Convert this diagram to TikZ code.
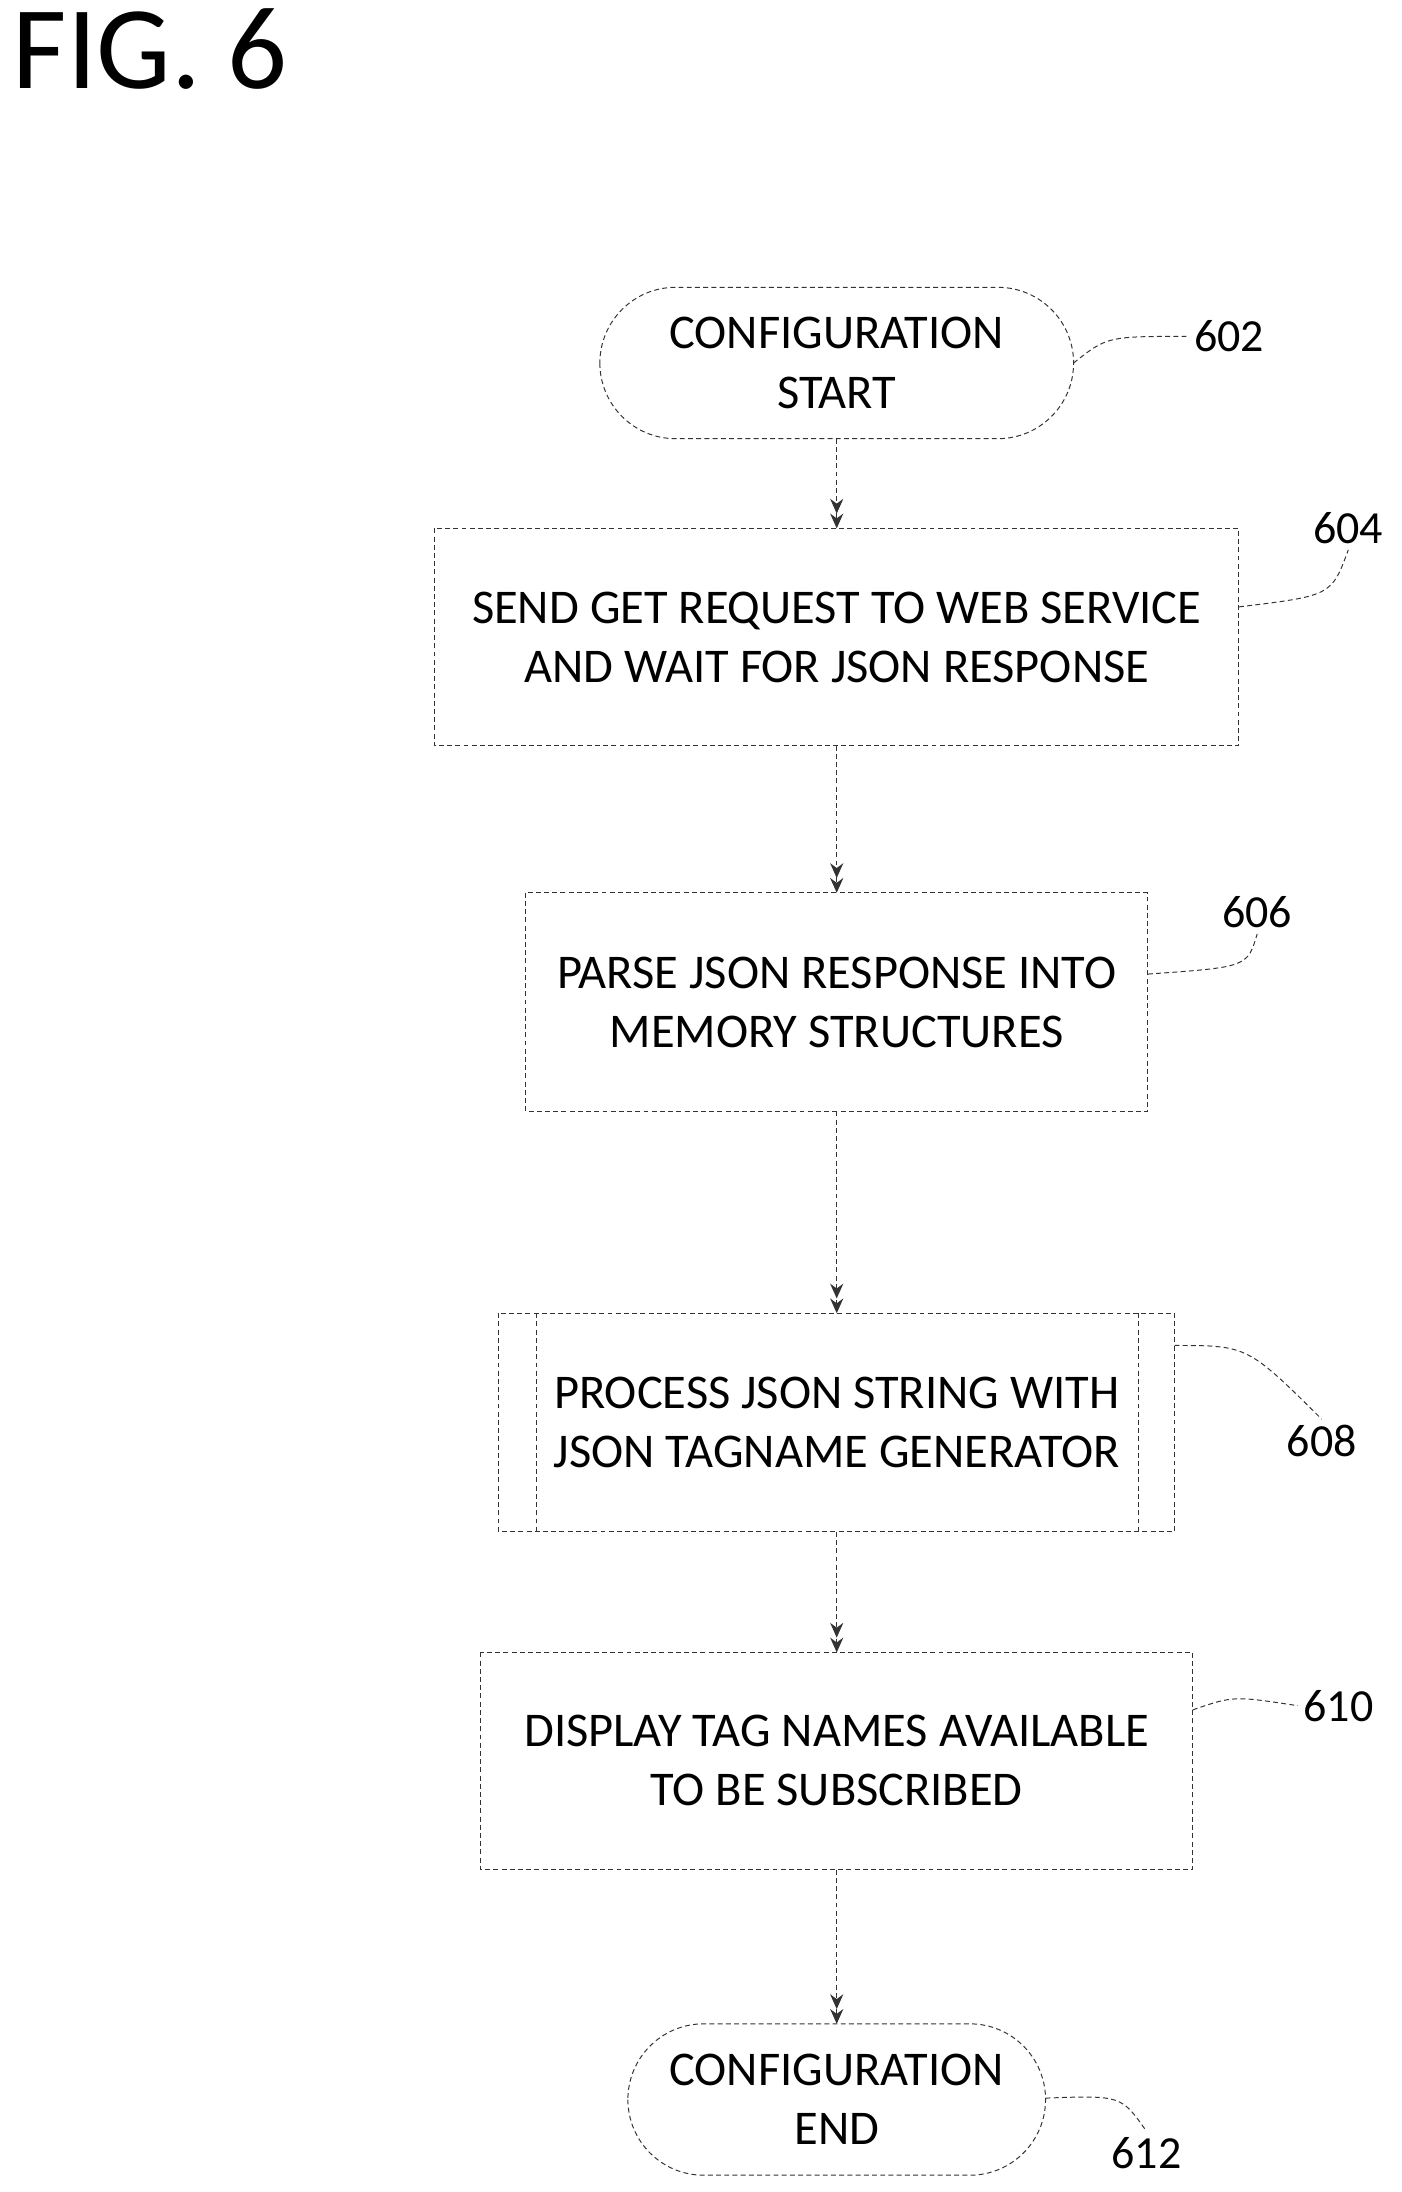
\documentclass[tikz,border=0pt]{standalone}
\usepackage{fontspec}
\setmainfont{Carlito}
\usetikzlibrary{arrows.meta}
\begin{document}
\begin{tikzpicture}[x=0.03cm,y=-0.03cm,
  box/.style={draw=black!80,densely dashed,line width=0.6pt,inner sep=0},
  term/.style={box,rounded corners=54*0.03cm},
  txt/.style={font=\fontsize{29.5}{36}\selectfont,align=center},
  lbl/.style={font=\fontsize{28}{30}\selectfont},
  arr/.style={draw=black!80,densely dashed,line width=0.7pt,-{Stealth[length=9pt,width=8pt]Stealth[length=9pt,width=8pt]}},
  lead/.style={draw=black!80,densely dashed,line width=0.6pt}]
\useasboundingbox (0,0) rectangle (1000,1564);
\node[anchor=north west,font=\fontsize{72}{76}\selectfont] (fig) at (5,2) {FIG. 6};
\draw[term] (428,205) rectangle (766,313);
\node[txt] (s) at (597,259) {CONFIGURATION\\START};
\coordinate (sB) at (597,313);
\draw[box] (310,377) rectangle (884,532);
\node[txt] (b4) at (597,455) {SEND GET REQUEST TO WEB SERVICE\\AND WAIT FOR JSON RESPONSE};
\coordinate (b4T) at (597,377); \coordinate (b4B) at (597,532);
\draw[box] (375,637) rectangle (819,793);
\node[txt] (b6) at (597,715) {PARSE JSON RESPONSE INTO\\MEMORY STRUCTURES};
\coordinate (b6T) at (597,637); \coordinate (b6B) at (597,793);
\draw[box] (356,937) rectangle (838,1093);
\draw[box] (383,937) -- (383,1093); \draw[box] (812,937) -- (812,1093);
\node[txt] (b8) at (597,1015) {PROCESS JSON STRING WITH\\JSON TAGNAME GENERATOR};
\coordinate (b8T) at (597,937); \coordinate (b8B) at (597,1093);
\draw[box] (343,1179) rectangle (851,1334);
\node[txt] (b10) at (597,1256) {DISPLAY TAG NAMES AVAILABLE\\TO BE SUBSCRIBED};
\coordinate (b10T) at (597,1179); \coordinate (b10B) at (597,1334);
\draw[term] (448,1444) rectangle (746,1552);
\node[txt] (e) at (597,1498) {CONFIGURATION\\END};
\coordinate (eT) at (597,1444);
\draw[arr] (sB) -- (b4T);
\draw[arr] (b4B) -- (b6T);
\draw[arr] (b6B) -- (b8T);
\draw[arr] (b8B) -- (b10T);
\draw[arr] (b10B) -- (eT);
\node[lbl] (l2) at (877,240) {602};
\node[lbl] (l4) at (962,377) {604};
\node[lbl] (l6) at (897,651) {606};
\node[lbl] (l8) at (943,1028) {608};
\node[lbl] (l10) at (955,1217) {610};
\node[lbl] (l12) at (818,1536) {612};
\draw[lead] (766,259) .. controls (790,240) .. (l2.west);
\draw[lead] (884,433) .. controls (950,425) .. (l4.south);
\draw[lead] (819,695) .. controls (890,690) .. (l6.south);
\draw[lead] (838,960) .. controls (890,960) .. (l8.north);
\draw[lead] (851,1220) .. controls (880,1210) .. (l10.west);
\draw[lead] (746,1497) .. controls (800,1495) .. (l12.north);
\end{tikzpicture}
\end{document}
